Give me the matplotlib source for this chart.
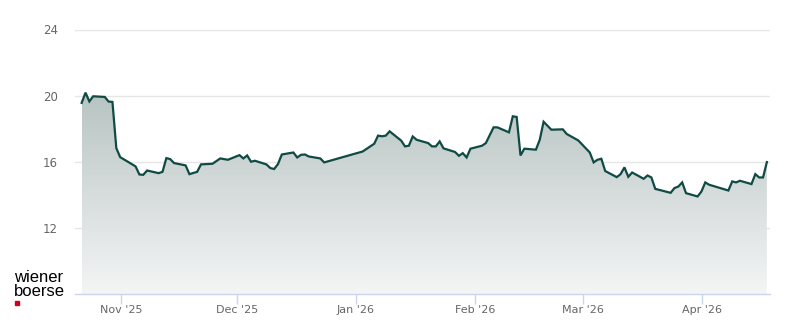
"""Share price area chart, Oct 2025 - Apr 2026."""

import matplotlib
matplotlib.use("Agg")
import matplotlib.pyplot as plt
import matplotlib.dates as mdates
import numpy as np
import pandas as pd
from matplotlib.colors import LinearSegmentedColormap
from matplotlib.patches import Rectangle

# ── data (closing prices) ─────────────────────────────────────────────────────
dates = [
    "2025-10-21", "2025-10-22", "2025-10-23", "2025-10-24", "2025-10-27",
    "2025-10-28", "2025-10-29", "2025-10-30", "2025-10-31", "2025-11-04",
    "2025-11-05", "2025-11-06", "2025-11-07", "2025-11-10", "2025-11-11",
    "2025-11-12", "2025-11-13", "2025-11-14", "2025-11-17", "2025-11-18",
    "2025-11-20", "2025-11-21", "2025-11-24", "2025-11-26", "2025-11-28",
    "2025-12-01", "2025-12-02", "2025-12-03", "2025-12-04", "2025-12-05",
    "2025-12-08", "2025-12-09", "2025-12-10", "2025-12-11", "2025-12-12",
    "2025-12-15", "2025-12-16", "2025-12-17", "2025-12-18", "2025-12-19",
    "2025-12-22", "2025-12-23", "2026-01-02", "2026-01-05", "2026-01-06",
    "2026-01-07", "2026-01-08", "2026-01-09", "2026-01-12", "2026-01-13",
    "2026-01-14", "2026-01-15", "2026-01-16", "2026-01-19", "2026-01-20",
    "2026-01-21", "2026-01-22", "2026-01-23", "2026-01-26", "2026-01-27",
    "2026-01-28", "2026-01-29", "2026-01-30", "2026-02-02", "2026-02-03",
    "2026-02-05", "2026-02-06", "2026-02-09", "2026-02-10", "2026-02-11",
    "2026-02-12", "2026-02-13", "2026-02-16", "2026-02-17", "2026-02-18",
    "2026-02-20", "2026-02-23", "2026-02-24", "2026-02-27", "2026-03-02",
    "2026-03-03", "2026-03-04", "2026-03-05", "2026-03-06", "2026-03-09",
    "2026-03-10", "2026-03-11", "2026-03-12", "2026-03-13", "2026-03-16",
    "2026-03-17", "2026-03-18", "2026-03-19", "2026-03-23", "2026-03-24",
    "2026-03-25", "2026-03-26", "2026-03-27", "2026-03-30", "2026-03-31",
    "2026-04-01", "2026-04-02", "2026-04-07", "2026-04-08", "2026-04-09",
    "2026-04-10", "2026-04-13", "2026-04-14", "2026-04-15", "2026-04-16",
    "2026-04-17",
]
prices = [
    19.56, 20.18, 19.65, 19.96, 19.92, 19.64, 19.62, 16.83, 16.28, 15.72,
    15.23, 15.21, 15.47, 15.31, 15.39, 16.22, 16.16, 15.92, 15.78, 15.25,
    15.39, 15.84, 15.88, 16.20, 16.12, 16.40, 16.20, 16.38, 16.00, 16.06,
    15.84, 15.62, 15.56, 15.86, 16.44, 16.56, 16.26, 16.42, 16.44, 16.32,
    16.20, 15.96, 16.62, 17.09, 17.58, 17.54, 17.58, 17.84, 17.28, 16.93,
    16.97, 17.53, 17.33, 17.13, 16.93, 16.93, 17.23, 16.81, 16.59, 16.36,
    16.52, 16.26, 16.79, 16.97, 17.13, 18.08, 18.08, 17.78, 18.75, 18.71,
    16.38, 16.79, 16.73, 17.33, 18.42, 17.94, 17.96, 17.68, 17.29, 16.56,
    15.96, 16.12, 16.18, 15.44, 15.07, 15.25, 15.66, 15.09, 15.35, 14.97,
    15.17, 15.05, 14.36, 14.12, 14.41, 14.50, 14.75, 14.10, 13.90, 14.20,
    14.75, 14.61, 14.26, 14.81, 14.75, 14.85, 14.65, 15.25, 15.05, 15.05,
    15.98,
]
y_ticks = [8, 12, 16, 20, 24]

LINE = "#0f4a44"
GRID = "#e6e6e6"
AXIS = "#ccd6eb"
LABEL = "#666666"

# closing prices are stamped late in the trading day
x = pd.to_datetime(dates) + pd.Timedelta(hours=17, minutes=30)
y = np.array(prices)

fig = plt.figure(figsize=(8, 3.24), dpi=100)
ax = fig.add_axes([75 / 800, 30 / 324, 695 / 800, 264.5 / 324])

ax.set_ylim(8, 24)
ax.set_xlim(pd.Timestamp("2025-10-20"), pd.Timestamp("2026-04-18 13:00"))

# ── gradient area fill ────────────────────────────────────────────────────────
area = ax.fill_between(x, y, 8, facecolor="none", edgecolor="none")
cmap = LinearSegmentedColormap.from_list("fade", ["#f4f5f5", "#b7c4c2"])
grad = np.linspace(0, 1, 256).reshape(-1, 1)
xnum = mdates.date2num(x)
img = ax.imshow(grad, cmap=cmap, origin="lower", aspect="auto",
                extent=[xnum[0], xnum[-1], 8, y.max()], zorder=1)
img.set_clip_path(area.get_paths()[0], transform=ax.transData)

ax.plot(x, y, color=LINE, linewidth=1.6, zorder=3, solid_joinstyle="miter")

# ── axes styling ──────────────────────────────────────────────────────────────
ax.set_yticks(y_ticks[1:])
ax.yaxis.grid(True, color=GRID, linewidth=1)
ax.set_axisbelow(True)
ax.tick_params(axis="y", length=0, pad=12.5, labelsize=8.5, labelcolor=LABEL)

ax.xaxis.set_major_locator(mdates.MonthLocator())
ax.xaxis.set_major_formatter(mdates.DateFormatter("%b '%y"))
ax.tick_params(axis="x", length=7.2, width=1, color=AXIS, pad=1,
               labelsize=8, labelcolor=LABEL)

for side in ("top", "left", "right"):
    ax.spines[side].set_visible(False)
ax.spines["bottom"].set_color(AXIS)
ax.spines["bottom"].set_linewidth(1)

# ── logo ──────────────────────────────────────────────────────────────────────
fig.text(14 / 800, 1 - 277 / 324, "wiener", fontsize=12, color="black",
         family="Liberation Sans", va="center")
fig.text(14 / 800, 1 - 292 / 324, "boerse", fontsize=12, color="black",
         family="Liberation Sans", va="center")
fig.patches.append(Rectangle((15 / 800, 1 - 305 / 324), 4 / 800, 4 / 324,
                             transform=fig.transFigure, color="#d0021b"))

fig.savefig("out.png", dpi=100)
